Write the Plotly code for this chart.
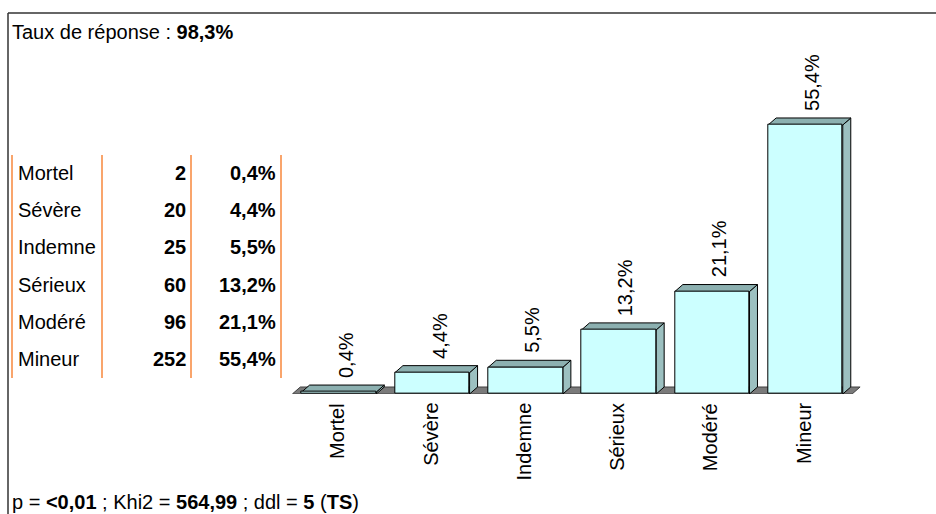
import plotly.graph_objects as go

# Severity categories, counts and shares
categories = ["Mortel", "Sévère", "Indemne", "Sérieux", "Modéré", "Mineur"]
counts = [2, 20, 25, 60, 96, 252]
percents = [0.4, 4.4, 5.5, 13.2, 21.1, 55.4]
pct_labels = ["0,4%", "4,4%", "5,5%", "13,2%", "21,1%", "55,4%"]
response_rate = "98,3%"
stats_line = "p = <b>&lt;0,01</b> ; Khi2 = <b>564,99</b> ; ddl = <b>5</b> (<b>TS</b>)"

W, H = 936, 514
FONT = "Liberation Sans, Arial, sans-serif"
FS = 20

FRONT = "#CCFFFF"
TOP = "#8CB0B0"
SIDE = "#9CC0C0"
FLOOR = "#7A7A7A"
EDGE = "#000000"
ORANGE = "#F7873B"

# Axis geometry (pixels)
x_left_px, unit_px = 292.3, 93.3
x_range = [-0.5, 5.7]
y_base_px, px_per_pct = 394.0, 4.856
y_range = [0, 60]
bar_w = 0.8
# 3D depth offset, converted to data units
dx = 8 / unit_px
dy = 7 / px_per_pct

x_dom = [x_left_px / W, (x_left_px + (x_range[1] - x_range[0]) * unit_px) / W]
y_dom = [1 - y_base_px / H, 1 - (y_base_px - y_range[1] * px_per_pct) / H]

idx = list(range(len(categories)))

fig = go.Figure()
fig.add_trace(go.Bar(
    x=idx, y=percents, width=bar_w,
    marker=dict(color=FRONT, line=dict(color=EDGE, width=1)),
    hoverinfo="skip", showlegend=False,
))

shapes = []
# floor of the 3D chart
n = len(categories)
shapes.append(dict(
    type="path", xref="x", yref="y", layer="below",
    path=f"M {-0.5} 0 L {n - 0.5} 0 L {n - 0.5 + dx} {dy} L {-0.5 + dx} {dy} Z",
    fillcolor=FLOOR, line=dict(color="#404040", width=1),
))
for i, v in zip(idx, percents):
    l, r = i - bar_w / 2, i + bar_w / 2
    # side face
    shapes.append(dict(
        type="path", xref="x", yref="y", layer="below",
        path=f"M {r} 0 L {r + dx} {dy} L {r + dx} {v + dy} L {r} {v} Z",
        fillcolor=SIDE, line=dict(color=EDGE, width=1),
    ))
    # top face
    shapes.append(dict(
        type="path", xref="x", yref="y", layer="below",
        path=f"M {l} {v} L {l + dx} {v + dy} L {r + dx} {v + dy} L {r} {v} Z",
        fillcolor=TOP, line=dict(color=EDGE, width=1),
    ))

annotations = []
for i, v, lab, cat in zip(idx, percents, pct_labels, categories):
    annotations.append(dict(
        x=i + dx / 2, y=v + dy, xref="x", yref="y", text=lab, showarrow=False,
        textangle=-90, xanchor="center", yanchor="bottom", xshift=3, yshift=5,
        font=dict(family=FONT, size=FS, color="#000"),
    ))
    annotations.append(dict(
        x=i, y=0, xref="x", yref="y", text=cat, showarrow=False,
        textangle=-90, xanchor="center", yanchor="top", xshift=-2, yshift=-7,
        font=dict(family=FONT, size=FS, color="#000"),
    ))

def px(xp):
    return xp / W

def py(yp):
    return 1 - yp / H

# header and footer text
annotations.append(dict(
    x=px(10), y=py(32), xref="paper", yref="paper", xanchor="left", yanchor="middle",
    text=f"Taux de réponse : <b>{response_rate}</b>", showarrow=False,
    font=dict(family=FONT, size=FS, color="#000"),
))
annotations.append(dict(
    x=px(10), y=py(502), xref="paper", yref="paper", xanchor="left", yanchor="middle",
    text=stats_line, showarrow=False,
    font=dict(family=FONT, size=FS, color="#000"),
))

# summary table
row0, row_step = 173, 37.2
for k, (cat, c, lab) in enumerate(zip(categories, counts, pct_labels)):
    yk = py(row0 + k * row_step)
    annotations.append(dict(x=px(16), y=yk, xref="paper", yref="paper", xanchor="left",
                            yanchor="middle", text=cat, showarrow=False,
                            font=dict(family=FONT, size=FS, color="#000")))
    annotations.append(dict(x=px(188), y=yk, xref="paper", yref="paper", xanchor="right",
                            yanchor="middle", text=f"<b>{c}</b>", showarrow=False,
                            font=dict(family=FONT, size=FS, color="#000")))
    annotations.append(dict(x=px(278), y=yk, xref="paper", yref="paper", xanchor="right",
                            yanchor="middle", text=f"<b>{lab}</b>", showarrow=False,
                            font=dict(family=FONT, size=FS, color="#000")))
for xl in [12, 102, 191, 281]:
    shapes.append(dict(type="line", xref="paper", yref="paper",
                       x0=px(xl), x1=px(xl), y0=py(155), y1=py(378),
                       line=dict(color=ORANGE, width=1.5)))

# outer frame (top and left edges)
shapes.append(dict(type="line", xref="paper", yref="paper", x0=px(8), x1=1.0,
                   y0=py(13), y1=py(13), line=dict(color="#333333", width=1.5)))
shapes.append(dict(type="line", xref="paper", yref="paper", x0=px(8), x1=px(8),
                   y0=py(13), y1=0, line=dict(color="#333333", width=1.5)))

fig.update_layout(
    width=W, height=H, margin=dict(l=0, r=0, t=0, b=0),
    paper_bgcolor="white", plot_bgcolor="rgba(0,0,0,0)",
    xaxis=dict(domain=x_dom, range=x_range, showgrid=False, zeroline=False,
               showticklabels=False, showline=False, ticks="", fixedrange=True),
    yaxis=dict(domain=y_dom, range=y_range, showgrid=False, zeroline=False,
               showticklabels=False, showline=False, ticks="", fixedrange=True),
    shapes=shapes, annotations=annotations, bargap=0, showlegend=False,
)

fig.write_html("out.html")
